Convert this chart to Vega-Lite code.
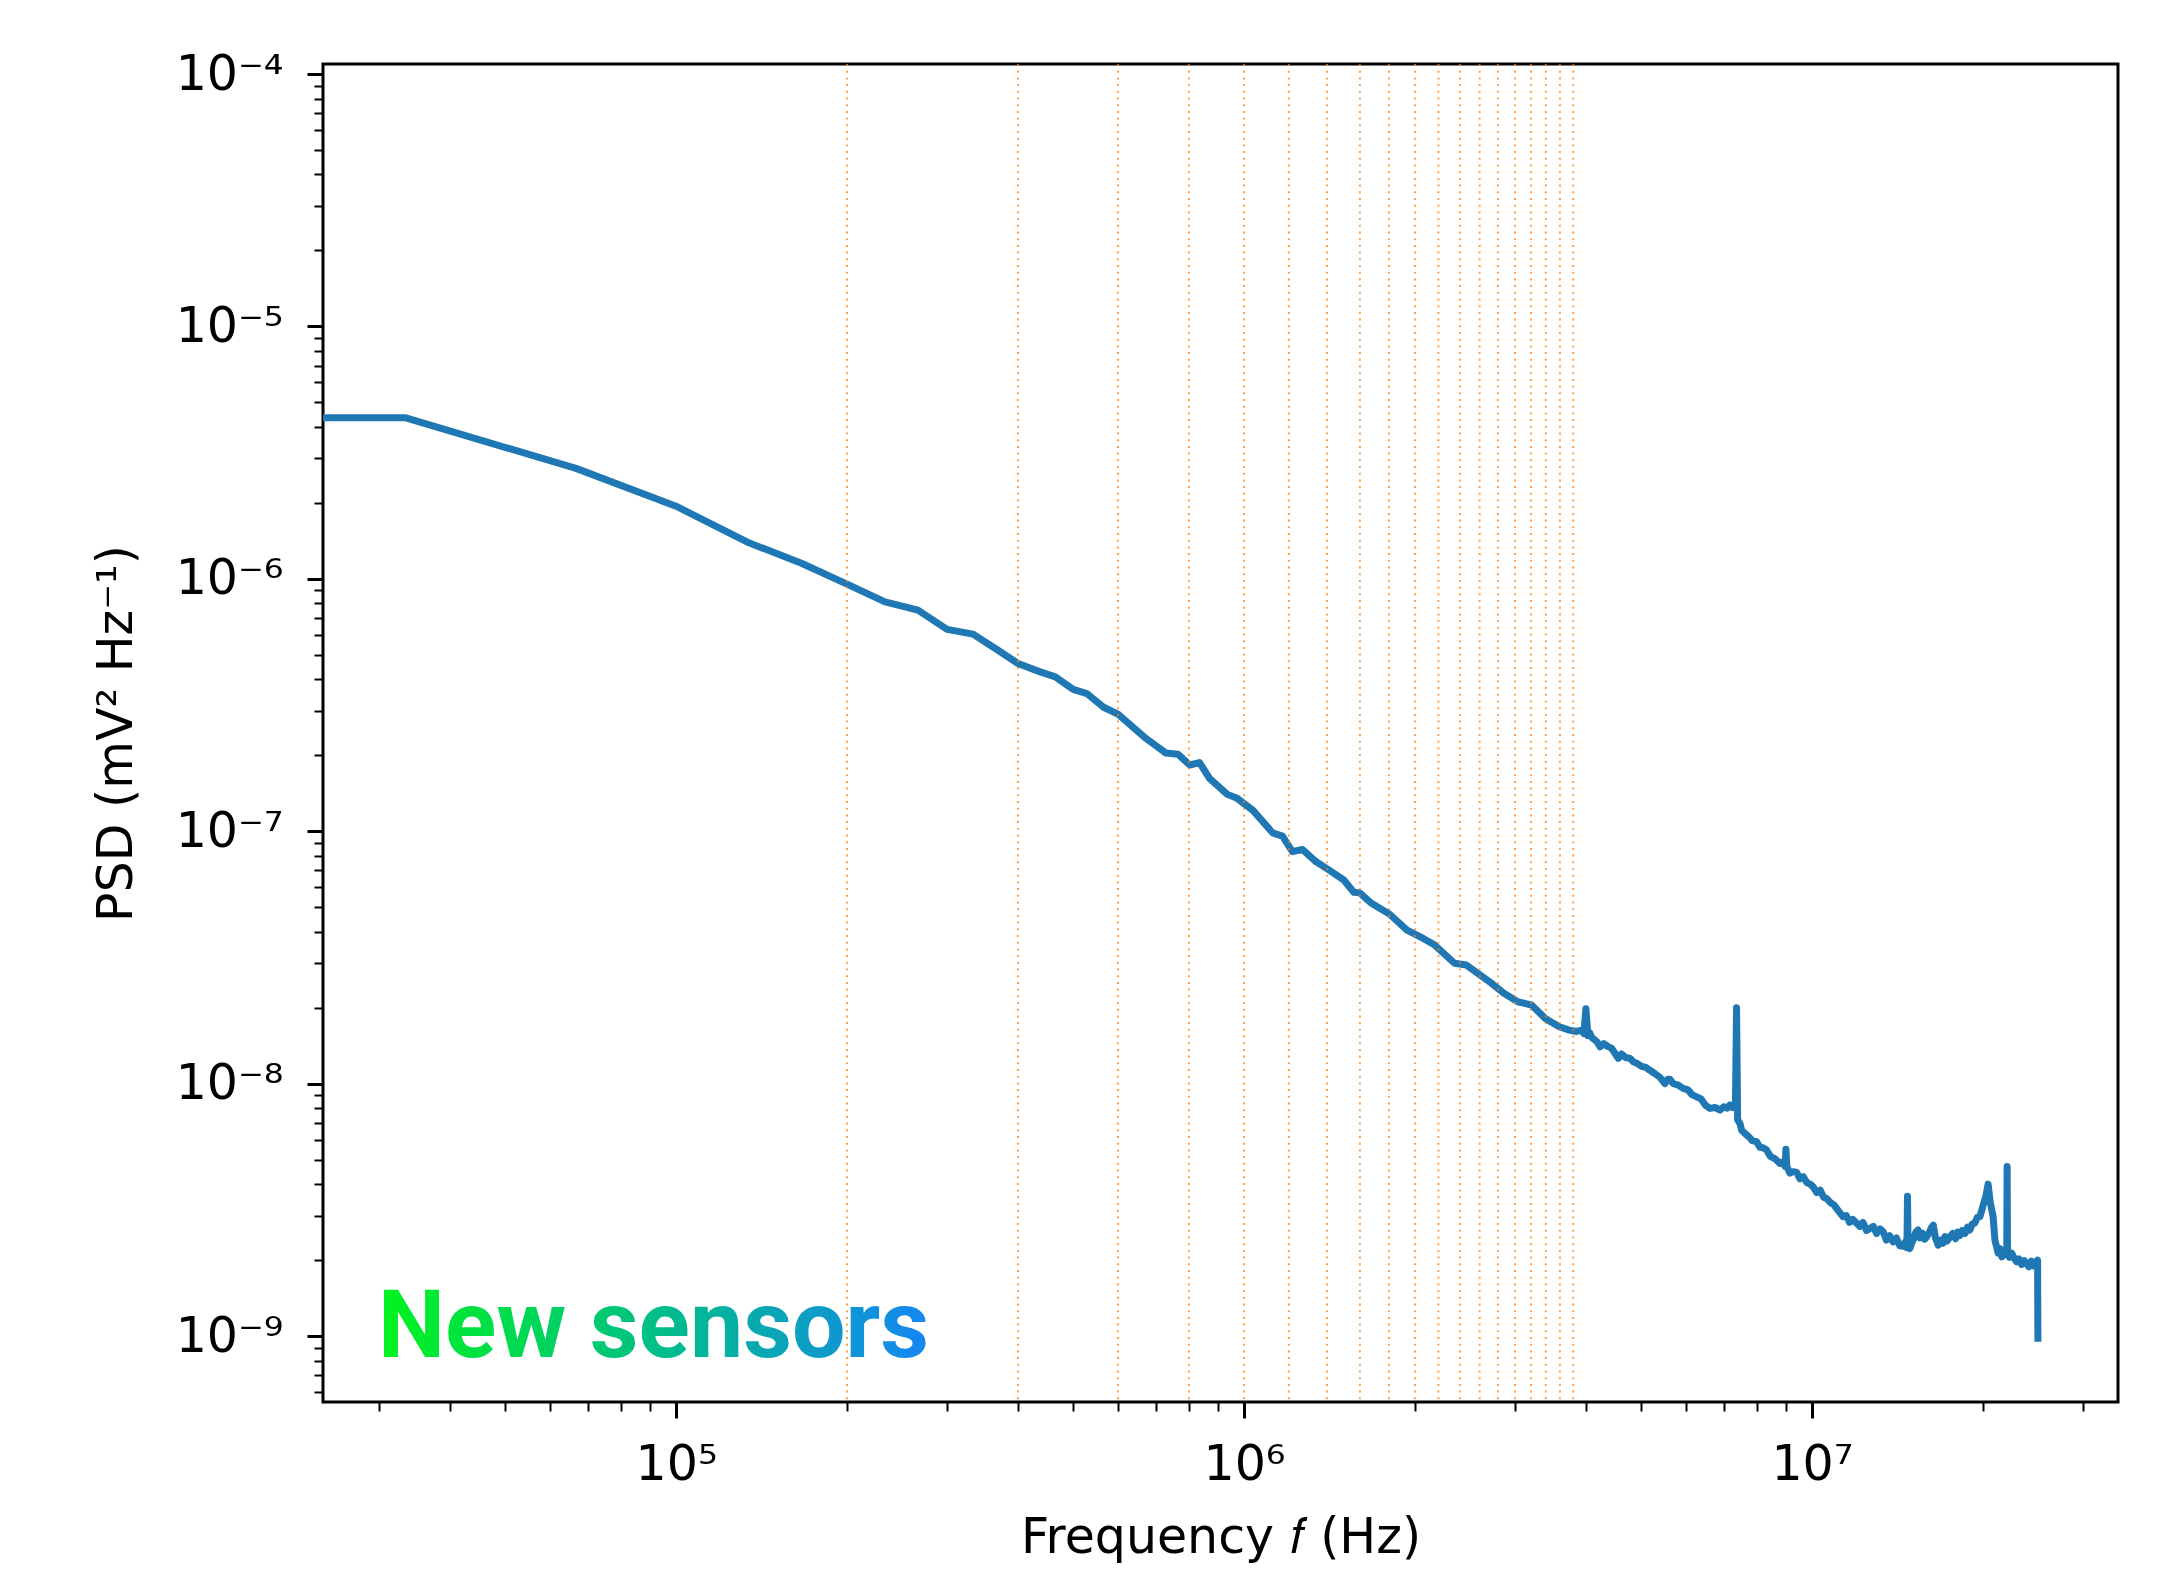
{
  "$schema": "https://vega.github.io/schema/vega-lite/v6.json",
  "autosize": "none",
  "width": 1795,
  "height": 1338,
  "padding": {"left": 323, "top": 64, "right": 43, "bottom": 180},
  "background": "white",
  "config": {
    "view": {"stroke": "black", "strokeWidth": 3},
    "axis": {"domain": false, "grid": false, "labelFont": "DejaVu Sans", "titleFont": "DejaVu Sans", "labelColor": "black", "titleColor": "black", "tickColor": "black"}
  },
  "datasets": {
    "psd": [
      {"f": 20000, "psd": 4.35e-6},
      {"f": 33333, "psd": 4.35e-6},
      {"f": 66667, "psd": 2.74e-6},
      {"f": 100000, "psd": 1.94e-6},
      {"f": 133333, "psd": 1.40e-6},
      {"f": 166667, "psd": 1.15e-6},
      {"f": 200000, "psd": 9.53e-7},
      {"f": 233333, "psd": 8.11e-7},
      {"f": 266667, "psd": 7.52e-7},
      {"f": 300000, "psd": 6.31e-7},
      {"f": 333333, "psd": 6.04e-7},
      {"f": 366667, "psd": 5.26e-7},
      {"f": 400000, "psd": 4.62e-7},
      {"f": 436500, "psd": 4.29e-7},
      {"f": 465400, "psd": 4.09e-7},
      {"f": 500300, "psd": 3.65e-7},
      {"f": 529100, "psd": 3.51e-7},
      {"f": 566000, "psd": 3.10e-7},
      {"f": 600000, "psd": 2.91e-7},
      {"f": 672600, "psd": 2.33e-7},
      {"f": 729000, "psd": 2.04e-7},
      {"f": 765000, "psd": 2.02e-7},
      {"f": 802600, "psd": 1.83e-7},
      {"f": 835200, "psd": 1.87e-7},
      {"f": 869600, "psd": 1.62e-7},
      {"f": 934600, "psd": 1.40e-7},
      {"f": 972800, "psd": 1.35e-7},
      {"f": 1037000, "psd": 1.21e-7},
      {"f": 1123000, "psd": 9.86e-8},
      {"f": 1169000, "psd": 9.57e-8},
      {"f": 1217000, "psd": 8.30e-8},
      {"f": 1267000, "psd": 8.47e-8},
      {"f": 1340000, "psd": 7.57e-8},
      {"f": 1406000, "psd": 7.06e-8},
      {"f": 1499000, "psd": 6.41e-8},
      {"f": 1561000, "psd": 5.73e-8},
      {"f": 1599000, "psd": 5.70e-8},
      {"f": 1677000, "psd": 5.18e-8},
      {"f": 1803000, "psd": 4.70e-8},
      {"f": 1937000, "psd": 4.06e-8},
      {"f": 2065000, "psd": 3.77e-8},
      {"f": 2167000, "psd": 3.54e-8},
      {"f": 2348000, "psd": 3.00e-8},
      {"f": 2464000, "psd": 2.95e-8},
      {"f": 2585000, "psd": 2.73e-8},
      {"f": 2734000, "psd": 2.49e-8},
      {"f": 2869000, "psd": 2.28e-8},
      {"f": 3034000, "psd": 2.11e-8},
      {"f": 3208000, "psd": 2.05e-8},
      {"f": 3395000, "psd": 1.81e-8},
      {"f": 3591000, "psd": 1.68e-8},
      {"f": 3738000, "psd": 1.63e-8},
      {"f": 3852000, "psd": 1.61e-8},
      {"f": 3932000, "psd": 1.63e-8},
      {"f": 3967000, "psd": 1.58e-8},
      {"f": 4000000, "psd": 1.98e-8},
      {"f": 4033000, "psd": 1.55e-8},
      {"f": 4055000, "psd": 1.60e-8},
      {"f": 4100000, "psd": 1.52e-8},
      {"f": 4150000, "psd": 1.49e-8},
      {"f": 4190000, "psd": 1.46e-8},
      {"f": 4236000, "psd": 1.40e-8},
      {"f": 4300000, "psd": 1.44e-8},
      {"f": 4360000, "psd": 1.41e-8},
      {"f": 4441000, "psd": 1.38e-8},
      {"f": 4500000, "psd": 1.32e-8},
      {"f": 4560000, "psd": 1.26e-8},
      {"f": 4620000, "psd": 1.31e-8},
      {"f": 4700000, "psd": 1.27e-8},
      {"f": 4781000, "psd": 1.26e-8},
      {"f": 4850000, "psd": 1.22e-8},
      {"f": 4930000, "psd": 1.20e-8},
      {"f": 5013000, "psd": 1.17e-8},
      {"f": 5100000, "psd": 1.16e-8},
      {"f": 5185000, "psd": 1.13e-8},
      {"f": 5280000, "psd": 1.10e-8},
      {"f": 5400000, "psd": 1.06e-8},
      {"f": 5510000, "psd": 1.00e-8},
      {"f": 5570000, "psd": 1.04e-8},
      {"f": 5623000, "psd": 1.04e-8},
      {"f": 5700000, "psd": 1.00e-8},
      {"f": 5800000, "psd": 9.90e-9},
      {"f": 5934000, "psd": 9.58e-9},
      {"f": 6050000, "psd": 9.45e-9},
      {"f": 6150000, "psd": 9.05e-9},
      {"f": 6266000, "psd": 8.87e-9},
      {"f": 6380000, "psd": 8.70e-9},
      {"f": 6500000, "psd": 8.20e-9},
      {"f": 6613000, "psd": 7.98e-9},
      {"f": 6750000, "psd": 8.05e-9},
      {"f": 6887000, "psd": 7.86e-9},
      {"f": 7000000, "psd": 8.10e-9},
      {"f": 7100000, "psd": 8.00e-9},
      {"f": 7172000, "psd": 8.23e-9},
      {"f": 7240000, "psd": 8.05e-9},
      {"f": 7299000, "psd": 8.10e-9},
      {"f": 7333000, "psd": 8.00e-9},
      {"f": 7367000, "psd": 2.00e-8},
      {"f": 7400000, "psd": 7.20e-9},
      {"f": 7440000, "psd": 7.05e-9},
      {"f": 7469000, "psd": 6.96e-9},
      {"f": 7520000, "psd": 6.55e-9},
      {"f": 7569000, "psd": 6.45e-9},
      {"f": 7650000, "psd": 6.30e-9},
      {"f": 7750000, "psd": 6.15e-9},
      {"f": 7850000, "psd": 5.95e-9},
      {"f": 7990000, "psd": 5.89e-9},
      {"f": 8100000, "psd": 5.60e-9},
      {"f": 8200000, "psd": 5.58e-9},
      {"f": 8321000, "psd": 5.46e-9},
      {"f": 8450000, "psd": 5.15e-9},
      {"f": 8600000, "psd": 5.05e-9},
      {"f": 8783000, "psd": 4.83e-9},
      {"f": 8880000, "psd": 4.90e-9},
      {"f": 8967000, "psd": 4.70e-9},
      {"f": 9000000, "psd": 5.50e-9},
      {"f": 9033000, "psd": 4.70e-9},
      {"f": 9150000, "psd": 4.42e-9},
      {"f": 9271000, "psd": 4.48e-9},
      {"f": 9400000, "psd": 4.45e-9},
      {"f": 9520000, "psd": 4.20e-9},
      {"f": 9654000, "psd": 4.28e-9},
      {"f": 9800000, "psd": 4.05e-9},
      {"f": 9930000, "psd": 4.00e-9},
      {"f": 10050000, "psd": 3.90e-9},
      {"f": 10200000, "psd": 3.70e-9},
      {"f": 10350000, "psd": 3.78e-9},
      {"f": 10480000, "psd": 3.55e-9},
      {"f": 10610000, "psd": 3.51e-9},
      {"f": 10780000, "psd": 3.38e-9},
      {"f": 10950000, "psd": 3.30e-9},
      {"f": 11150000, "psd": 3.12e-9},
      {"f": 11350000, "psd": 2.97e-9},
      {"f": 11500000, "psd": 3.00e-9},
      {"f": 11650000, "psd": 2.82e-9},
      {"f": 11800000, "psd": 2.90e-9},
      {"f": 11990000, "psd": 2.80e-9},
      {"f": 12150000, "psd": 2.72e-9},
      {"f": 12300000, "psd": 2.82e-9},
      {"f": 12480000, "psd": 2.62e-9},
      {"f": 12650000, "psd": 2.67e-9},
      {"f": 12830000, "psd": 2.72e-9},
      {"f": 13000000, "psd": 2.55e-9},
      {"f": 13180000, "psd": 2.66e-9},
      {"f": 13350000, "psd": 2.59e-9},
      {"f": 13530000, "psd": 2.40e-9},
      {"f": 13700000, "psd": 2.50e-9},
      {"f": 13900000, "psd": 2.36e-9},
      {"f": 14080000, "psd": 2.45e-9},
      {"f": 14280000, "psd": 2.28e-9},
      {"f": 14480000, "psd": 2.27e-9},
      {"f": 14600000, "psd": 2.36e-9},
      {"f": 14700000, "psd": 2.24e-9},
      {"f": 14733000, "psd": 3.58e-9},
      {"f": 14767000, "psd": 2.30e-9},
      {"f": 14870000, "psd": 2.22e-9},
      {"f": 14980000, "psd": 2.33e-9},
      {"f": 15100000, "psd": 2.42e-9},
      {"f": 15240000, "psd": 2.58e-9},
      {"f": 15380000, "psd": 2.63e-9},
      {"f": 15500000, "psd": 2.45e-9},
      {"f": 15650000, "psd": 2.56e-9},
      {"f": 15800000, "psd": 2.42e-9},
      {"f": 15920000, "psd": 2.47e-9},
      {"f": 16100000, "psd": 2.58e-9},
      {"f": 16250000, "psd": 2.70e-9},
      {"f": 16360000, "psd": 2.75e-9},
      {"f": 16500000, "psd": 2.45e-9},
      {"f": 16690000, "psd": 2.29e-9},
      {"f": 16850000, "psd": 2.40e-9},
      {"f": 17000000, "psd": 2.33e-9},
      {"f": 17150000, "psd": 2.48e-9},
      {"f": 17300000, "psd": 2.38e-9},
      {"f": 17500000, "psd": 2.47e-9},
      {"f": 17700000, "psd": 2.55e-9},
      {"f": 17900000, "psd": 2.43e-9},
      {"f": 18050000, "psd": 2.58e-9},
      {"f": 18220000, "psd": 2.50e-9},
      {"f": 18400000, "psd": 2.62e-9},
      {"f": 18600000, "psd": 2.55e-9},
      {"f": 18800000, "psd": 2.70e-9},
      {"f": 18970000, "psd": 2.63e-9},
      {"f": 19150000, "psd": 2.78e-9},
      {"f": 19350000, "psd": 2.80e-9},
      {"f": 19550000, "psd": 2.95e-9},
      {"f": 19760000, "psd": 2.97e-9},
      {"f": 19950000, "psd": 3.20e-9},
      {"f": 20100000, "psd": 3.40e-9},
      {"f": 20250000, "psd": 3.60e-9},
      {"f": 20430000, "psd": 4.00e-9},
      {"f": 20600000, "psd": 3.40e-9},
      {"f": 20850000, "psd": 2.97e-9},
      {"f": 21000000, "psd": 2.40e-9},
      {"f": 21150000, "psd": 2.25e-9},
      {"f": 21280000, "psd": 2.13e-9},
      {"f": 21450000, "psd": 2.22e-9},
      {"f": 21600000, "psd": 2.06e-9},
      {"f": 21720000, "psd": 2.09e-9},
      {"f": 21880000, "psd": 2.18e-9},
      {"f": 22033000, "psd": 2.10e-9},
      {"f": 22067000, "psd": 4.70e-9},
      {"f": 22100000, "psd": 2.20e-9},
      {"f": 22280000, "psd": 2.05e-9},
      {"f": 22470000, "psd": 2.13e-9},
      {"f": 22700000, "psd": 2.04e-9},
      {"f": 22930000, "psd": 1.97e-9},
      {"f": 23150000, "psd": 2.02e-9},
      {"f": 23400000, "psd": 1.92e-9},
      {"f": 23650000, "psd": 1.99e-9},
      {"f": 23880000, "psd": 1.94e-9},
      {"f": 24100000, "psd": 1.88e-9},
      {"f": 24350000, "psd": 1.98e-9},
      {"f": 24600000, "psd": 1.90e-9},
      {"f": 24870000, "psd": 1.94e-9},
      {"f": 24967000, "psd": 2.00e-9},
      {"f": 25000000, "psd": 9.50e-10}
    ],
    "markers": [
      {"f": 200000}, {"f": 400000}, {"f": 600000}, {"f": 800000}, {"f": 1000000},
      {"f": 1200000}, {"f": 1400000}, {"f": 1600000}, {"f": 1800000}, {"f": 2000000},
      {"f": 2200000}, {"f": 2400000}, {"f": 2600000}, {"f": 2800000}, {"f": 3000000},
      {"f": 3200000}, {"f": 3400000}, {"f": 3600000}, {"f": 3800000}
    ],
    "note": [
      {"f": 29880, "psd": 8.25e-10, "label": "New sensors"}
    ]
  },
  "resolve": {"axis": {"x": "independent", "y": "independent"}},
  "layer": [
    {
      "data": {"name": "psd"},
      "mark": {"type": "line", "color": "#1f77b4", "strokeWidth": 7, "strokeJoin": "round", "strokeCap": "butt", "clip": true},
      "encoding": {
        "x": {
          "field": "f", "type": "quantitative",
          "scale": {"type": "log", "domain": [23900, 34590000], "nice": false},
          "axis": {
            "orient": "bottom",
            "title": "Frequency 𝑓 (Hz)",
            "values": [100000, 1000000, 10000000],
            "labelExpr": "'10' + ['⁰','¹','²','³','⁴','⁵','⁶','⁷','⁸','⁹'][round(log(datum.value)/LN10)]",
            "labelFontSize": 49,
            "labelPadding": 22,
            "labelFlush": false,
            "tickSize": 16,
            "tickWidth": 3,
            "titleFontSize": 49,
            "titleFontWeight": "normal",
            "titlePadding": 24
          }
        },
        "y": {
          "field": "psd", "type": "quantitative",
          "scale": {"type": "log", "domain": [5.48e-10, 1.096e-4], "nice": false},
          "axis": {
            "orient": "left",
            "title": "PSD (mV² Hz⁻¹)",
            "values": [1e-9, 1e-8, 1e-7, 1e-6, 1e-5, 1e-4],
            "labelExpr": "'10⁻' + ['⁰','¹','²','³','⁴','⁵','⁶','⁷','⁸','⁹'][round(-log(datum.value)/LN10)]",
            "labelFontSize": 49,
            "labelPadding": 24,
            "labelFlush": false,
            "tickSize": 16,
            "tickWidth": 3,
            "titleFontSize": 49,
            "titleFontWeight": "normal",
            "titlePadding": 34
          }
        }
      }
    },
    {
      "data": {"name": "note"},
      "mark": {
        "type": "text", "font": "Roboto", "fontWeight": 700, "fontSize": 95,
        "align": "left", "baseline": "alphabetic",
        "fill": {"gradient": "linear", "x1": 0, "x2": 1, "y1": 0, "y2": 0,
          "stops": [{"offset": 0, "color": "#00f41c"}, {"offset": 0.5, "color": "#00bf86"}, {"offset": 1, "color": "#1585f3"}]}
      },
      "encoding": {
        "x": {
          "field": "f", "type": "quantitative",
          "scale": {"type": "log", "domain": [23900, 34590000], "nice": false},
          "axis": {
            "orient": "bottom", "title": null, "labels": false,
            "values": [30000, 40000, 50000, 60000, 70000, 80000, 90000, 200000, 300000, 400000, 500000, 600000, 700000, 800000, 900000, 2000000, 3000000, 4000000, 5000000, 6000000, 7000000, 8000000, 9000000, 20000000, 30000000],
            "tickSize": 9, "tickWidth": 2
          }
        },
        "y": {
          "field": "psd", "type": "quantitative",
          "scale": {"type": "log", "domain": [5.48e-10, 1.096e-4], "nice": false},
          "axis": {
            "orient": "left", "title": null, "labels": false,
            "values": [6e-10, 7e-10, 8e-10, 9e-10, 2e-9, 3e-9, 4e-9, 5e-9, 6e-9, 7e-9, 8e-9, 9e-9, 2e-8, 3e-8, 4e-8, 5e-8, 6e-8, 7e-8, 8e-8, 9e-8, 2e-7, 3e-7, 4e-7, 5e-7, 6e-7, 7e-7, 8e-7, 9e-7, 2e-6, 3e-6, 4e-6, 5e-6, 6e-6, 7e-6, 8e-6, 9e-6, 2e-5, 3e-5, 4e-5, 5e-5, 6e-5, 7e-5, 8e-5, 9e-5],
            "tickSize": 9, "tickWidth": 2
          }
        },
        "text": {"field": "label"}
      }
    },
    {
      "data": {"name": "markers"},
      "mark": {"type": "rule", "color": "#ff7f0e", "strokeWidth": 2, "strokeDash": [2, 4.7], "opacity": 0.75},
      "encoding": {
        "x": {
          "field": "f", "type": "quantitative",
          "scale": {"type": "log", "domain": [23900, 34590000], "nice": false},
          "axis": null
        }
      }
    }
  ]
}
